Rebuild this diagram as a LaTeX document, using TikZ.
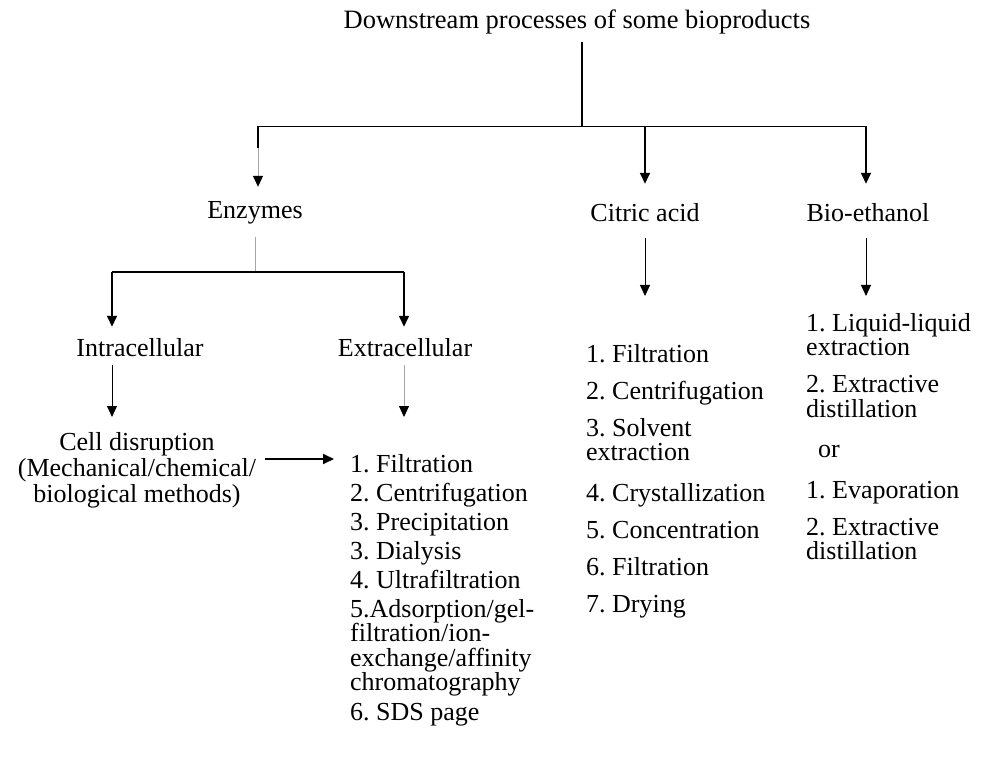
\documentclass[tikz,border=0pt]{standalone}
\usepackage{fontspec}
\setmainfont{Liberation Serif}
\usetikzlibrary{arrows.meta}
\begin{document}
\frenchspacing
\begin{tikzpicture}[x=1pt,y=-1pt,
  txt/.style={inner sep=0pt, anchor=base, font=\fontsize{26}{24.5}\selectfont},
  lst/.style={inner sep=0pt, anchor=north west, align=left, font=\fontsize{26}{24.5}\selectfont},
  tip/.style={-{Triangle[width=10pt,length=11pt,color=black]}},
  heavy/.style={line width=1.9pt, black},
  light/.style={line width=1pt, black},
  faint/.style={line width=0.9pt, black!35},
]
\useasboundingbox[fill=white] (0,0) rectangle (983,759);

% text nodes
\node[txt, font=\fontsize{26.5}{28}\selectfont] (title) at (577,29) {Downstream processes of some bioproducts};
\node[txt] (enz) at (255,219) {Enzymes};
\node[txt] (cit) at (645,222) {Citric acid};
\node[txt] (bio) at (868,222) {Bio-ethanol};
\node[txt] (intra) at (140,357) {Intracellular};
\node[txt] (extra) at (405,357) {Extracellular};
\node[lst, anchor=north, align=center, font=\fontsize{26}{26}\selectfont] (cell) at (137,432)
  {Cell disruption\\(Mechanical/chemical/\\biological methods)};
\node[lst] (elist) at (350,454) {1. Filtration\\[4.5pt]2. Centrifugation\\[4.5pt]3. Precipitation\\[4.5pt]3. Dialysis\\[4.5pt]4. Ultrafiltration\\[4.5pt]5.Adsorption/gel-\\filtration/ion-\\exchange/affinity\\chromatography\\[5.5pt]6. SDS page};
\node[lst] (clist) at (586,344) {1. Filtration\\[12.5pt]2. Centrifugation\\[12.5pt]3. Solvent\\extraction\\[16pt]4. Crystallization\\[12.5pt]5. Concentration\\[13pt]6. Filtration\\[12.5pt]7. Drying};
\node[lst] (blist) at (806,313) {1. Liquid-liquid\\extraction\\[12.5pt]2. Extractive\\distillation\\[15.5pt]\hspace*{12pt}or\\[16.5pt]1. Evaporation\\[12.5pt]2. Extractive\\distillation};

% column coordinates
\coordinate (xM) at (582,0);
\coordinate (xE) at (258,0);
\coordinate (xC) at (645,0);
\coordinate (xB) at (866,0);
\coordinate (xZ) at (255,0);
\coordinate (xI) at (112,0);
\coordinate (xX) at (404,0);
\coordinate (j0) at (582,126.5);
\coordinate (j0b) at (258,148);
\coordinate (j2) at (255,272);
\coordinate (ha) at (0,459);

% end points relative to nodes
\coordinate (sT) at ([yshift=-7pt]title.south);
\coordinate (tE) at ([yshift=15pt]enz.north);
\coordinate (tC) at ([yshift=20pt]cit.north);
\coordinate (tB) at ([yshift=20pt]bio.north);
\coordinate (sE) at ([yshift=-12.5pt]enz.south);
\coordinate (tI) at ([yshift=12pt]intra.north);
\coordinate (tX) at ([yshift=12pt]extra.north);
\coordinate (sI) at ([yshift=-8pt]intra.south);
\coordinate (tCell) at ([yshift=15pt]cell.north);
\coordinate (sX) at ([yshift=-8pt]extra.south);
\coordinate (tEl) at ([yshift=37pt]elist.north);
\coordinate (hs) at ([xshift=9pt]cell.east);
\coordinate (he) at ([xshift=-16pt]elist.west);
\coordinate (sC) at ([yshift=-16pt]cit.south);
\coordinate (tCl) at ([yshift=48pt]clist.north);
\coordinate (sB) at ([yshift=-16pt]bio.south);
\coordinate (tBl) at ([yshift=17pt]blist.north);

% connectors
\draw[line width=1.3pt] (sT -| xM) -- (j0);
\draw[heavy] (j0 -| xE) -- (j0 -| xB);
\draw[heavy] (j0 -| xE) -- (j0b);
\draw[faint, tip] (j0b) -- (tE -| xE);
\draw[heavy, tip] (j0 -| xC) -- (tC -| xC);
\draw[heavy, tip] (j0 -| xB) -- (tB -| xB);
\draw[faint] (sE -| xZ) -- (j2);
\draw[heavy] (j2 -| xI) -- (j2 -| xX);
\draw[heavy, tip] (j2 -| xI) -- (tI -| xI);
\draw[heavy, tip] (j2 -| xX) -- (tX -| xX);
\draw[light, tip] (sI -| xI) -- (tCell -| xI);
\draw[faint, tip] (sX -| xX) -- (tEl -| xX);
\draw[heavy, tip] (hs |- ha) -- (he |- ha);
\draw[light, tip] (sC -| xC) -- (tCl -| xC);
\draw[light, tip] (sB -| xB) -- (tBl -| xB);
\end{tikzpicture}
\end{document}
